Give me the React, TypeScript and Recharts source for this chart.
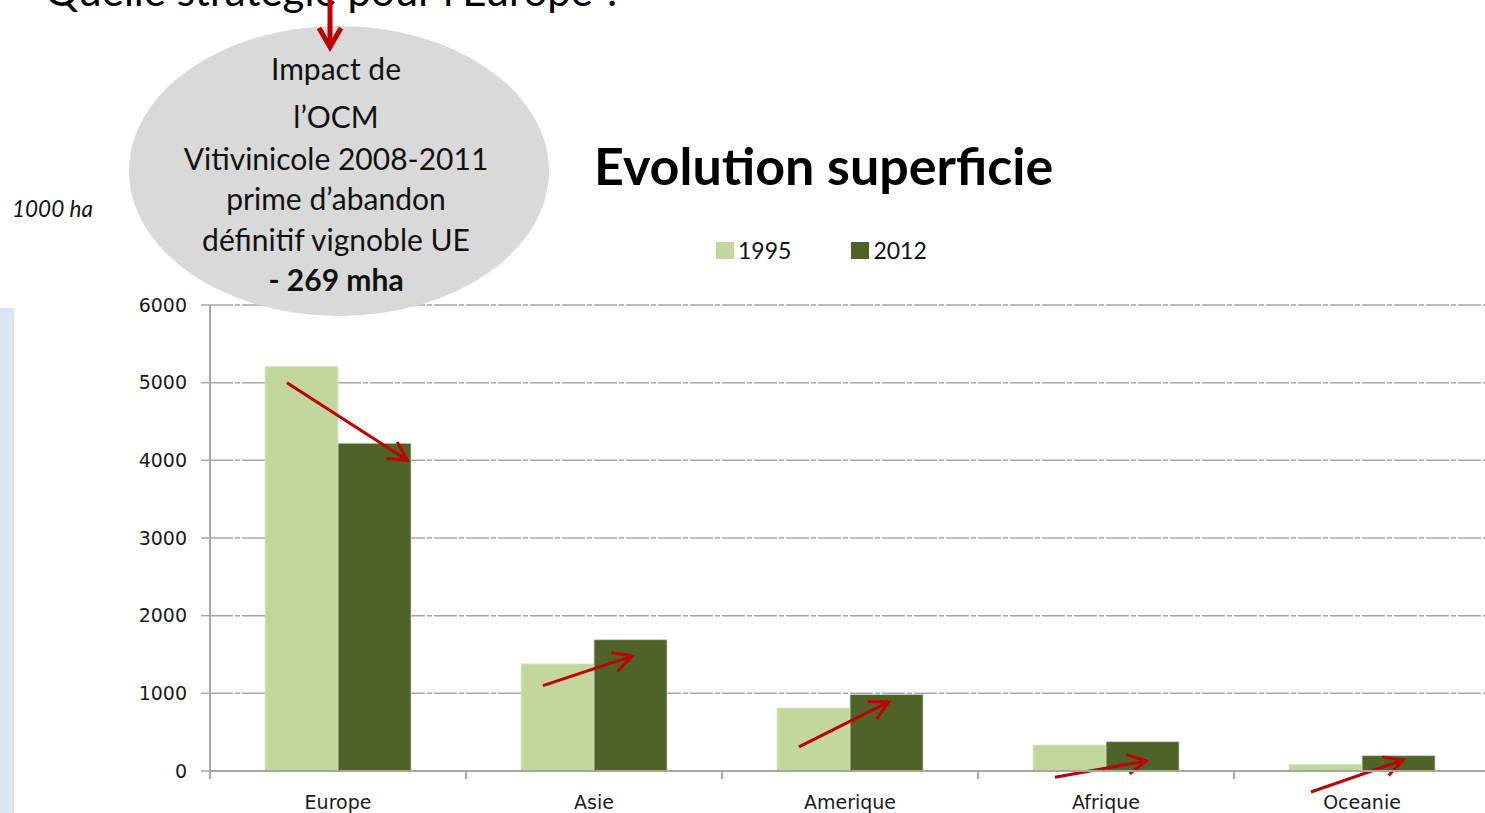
import { BarChart, Bar, XAxis, YAxis, CartesianGrid } from "recharts";

const regions = ["Europe", "Asie", "Amerique", "Afrique", "Oceanie"];
const area1995 = [5210, 1380, 810, 335, 86];
const area2012 = [4220, 1690, 985, 377, 197];
const yTicks = [0, 1000, 2000, 3000, 4000, 5000, 6000];

// red annotation arrows, in data units (start on the 1995 bar, tip on the 2012 bar)
const arrowFrom = [5000, 1100, 310, -80, -270];
const arrowTo = [4000, 1480, 890, 130, 140];
const arrowTipFrac = [0.95, 0.52, 0.53, 0.55, 0.56];

const bubbleLines = [
  "Impact de",
  "l’OCM",
  "Vitivinicole 2008-2011",
  "prime d’abandon",
  "définitif vignoble UE",
];

const data = regions.map((r, i) => ({ region: r, y1995: area1995[i], y2012: area2012[i] }));

const LIGHT = "#c3d69b";
const DARK = "#4f6228";
const RED = "#c00000";
const AXIS = "#a6a6a6";
const TICK_FONT = "'DejaVu Sans', Verdana, sans-serif";
const TEXT_FONT = "Lato, Carlito, Calibri, sans-serif";

function arrowPath(x1: number, y1: number, x2: number, y2: number) {
  const a = Math.atan2(y2 - y1, x2 - x1);
  const len = 21;
  const spread = (28 * Math.PI) / 180;
  const ax = x2 - len * Math.cos(a - spread);
  const ay = y2 - len * Math.sin(a - spread);
  const bx = x2 - len * Math.cos(a + spread);
  const by = y2 - len * Math.sin(a + spread);
  return { line: `M${x1},${y1}L${x2},${y2}`, head: `M${ax},${ay}L${x2},${y2}L${bx},${by}` };
}

function Bar2012Shape(props: any) {
  const { x, y, width, height, value, index, fill } = props;
  const k = value ? height / value : 0;
  const base = y + height;
  const x1 = x - width + width * 0.3;
  const y1 = base - arrowFrom[index] * k;
  const x2 = x + width * arrowTipFrac[index];
  const y2 = base - arrowTo[index] * k;
  const p = arrowPath(x1, y1, x2, y2);
  return (
    <g>
      <rect x={x} y={y} width={width} height={height} fill={fill} stroke="#cfd6c4" strokeWidth={0.8} />
      <path d={p.line} stroke={RED} strokeWidth={3} fill="none" />
      <path d={p.head} stroke={RED} strokeWidth={3} fill="none" />
    </g>
  );
}

function XTick(props: any) {
  const { x, y, payload, width, visibleTicksCount } = props;
  const half = payload?.offset ? payload.offset : width / visibleTicksCount / 2;
  const axisY = y - 8;
  const isLast = payload?.index === visibleTicksCount - 1;
  return (
    <g>
      <line x1={x - half} x2={x - half} y1={axisY} y2={axisY + 8} stroke={AXIS} strokeWidth={2} />
      {isLast && (
        <line x1={x + half} x2={x + half} y1={axisY} y2={axisY + 8} stroke={AXIS} strokeWidth={2} />
      )}
      <text x={x} y={axisY + 38} textAnchor="middle" fontFamily={TICK_FONT} fontSize={19} fill="#1a1a1a">
        {payload.value}
      </text>
    </g>
  );
}

function ChartLegend() {
  const items = [
    { label: "1995", color: LIGHT },
    { label: "2012", color: DARK },
  ];
  return (
    <div
      style={{
        position: "absolute",
        left: 716,
        top: 236,
        display: "flex",
        fontFamily: TEXT_FONT,
        fontSize: 23,
        color: "#111",
      }}
    >
      {items.map((it, i) => (
        <div key={it.label} style={{ display: "flex", alignItems: "center", marginRight: i === 0 ? 60 : 0 }}>
          <span style={{ width: 18, height: 17, background: it.color, display: "inline-block", marginRight: 4 }} />
          <span>{it.label}</span>
        </div>
      ))}
    </div>
  );
}

export default function App() {
  return (
    <div
      style={{
        position: "fixed",
        left: 0,
        top: 0,
        width: 1485,
        height: 813,
        overflow: "hidden",
        background: "#fff",
      }}
    >
      <div style={{ position: "absolute", left: 0, top: 308, width: 14, height: 505, background: "#dbe5f1" }} />

      <div style={{ position: "absolute", left: 0, top: 0 }}>
        <BarChart
          width={1500}
          height={813}
          data={data}
          margin={{ top: 305, right: 10, bottom: 12, left: 150 }}
          barCategoryGap="21.5%"
          barGap={0}
        >
          <CartesianGrid vertical={false} stroke={AXIS} strokeWidth={1.5} strokeDasharray="23 2 5 2" />
          <XAxis
            dataKey="region"
            height={30}
            axisLine={{ stroke: AXIS, strokeWidth: 2 }}
            tickLine={false}
            tickSize={8}
            tickMargin={0}
            tick={<XTick />}
            interval={0}
          />
          <YAxis
            width={60}
            domain={[0, 6000]}
            ticks={yTicks}
            interval={0}
            axisLine={{ stroke: AXIS, strokeWidth: 2 }}
            tickLine={{ stroke: AXIS, strokeWidth: 1.5 }}
            tickSize={9}
            tickMargin={14}
            tick={{ fontFamily: TICK_FONT, fontSize: 19, fill: "#1a1a1a" }}
          />
          <Bar dataKey="y1995" name="1995" fill={LIGHT} stroke="#e2e8d3" strokeWidth={0.8} isAnimationActive={false} />
          <Bar dataKey="y2012" name="2012" fill={DARK} shape={<Bar2012Shape />} isAnimationActive={false} />
        </BarChart>
      </div>

      <ChartLegend />

      <svg
        width={1485}
        height={813}
        style={{ position: "absolute", left: 0, top: 0, pointerEvents: "none" }}
      >
        <text x={45} y={6} fontFamily={TEXT_FONT} fontSize={42} fill="#000">
          Quelle stratégie pour l’Europe ?
        </text>
        <ellipse cx={339} cy={171} rx={210} ry={145} fill="#d9d9d9" />
        <g fontFamily={TEXT_FONT} fontSize={30} fill="#111" textAnchor="middle">
          {bubbleLines.map((t, i) => (
            <text key={t} x={336} y={[80, 128, 170, 210, 251][i]}>
              {t}
            </text>
          ))}
          <text x={336} y={291} fontWeight={700}>
            - 269 mha
          </text>
        </g>
        <line x1={330} y1={0} x2={330} y2={45} stroke={RED} strokeWidth={5} />
        <path d="M319,28L330,47L341,28" stroke={RED} strokeWidth={5} fill="none" />
        <text x={12} y={217} fontFamily={TEXT_FONT} fontSize={22.5} fontStyle="italic" fill="#111">
          1000 ha
        </text>
        <text x={594} y={185} fontFamily={TEXT_FONT} fontSize={52} fontWeight={700} fill="#000">
          Evolution superficie
        </text>
      </svg>
    </div>
  );
}
